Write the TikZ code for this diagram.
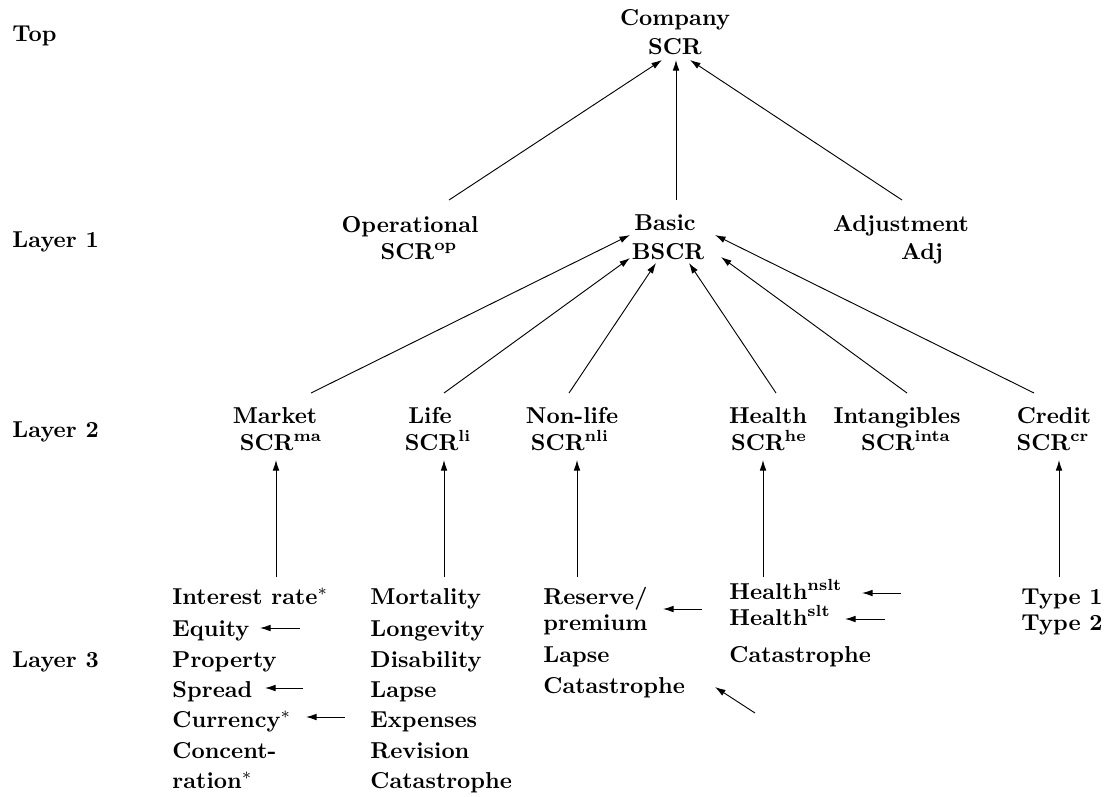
\documentclass[tikz,border=0pt]{standalone}
\usetikzlibrary{arrows.meta}
\begin{document}
\begin{tikzpicture}[x=0.4348pt,y=-0.4348pt,
  lbl/.style={inner sep=0pt, font=\bfseries, anchor=base},
  lft/.style={inner sep=0pt, font=\bfseries, anchor=base west},
  arr/.style={-{Latex[length=4.6pt,width=2.9pt]}, line width=0.4pt}]
\useasboundingbox (0,0) rectangle (1104,796);

% level labels
\node[lft] (ltop) at (12,41) {Top};
\node[lft] (lone) at (12,247) {Layer 1};
\node[lft] (ltwo) at (12,437) {Layer 2};
\node[lft] (lthree) at (12,667) {Layer 3};

% top
\node[lbl] (comp) at (675,25) {Company};
\node[lbl] (scr) at (675,54) {SCR};

% layer 1
\node[lbl] (op) at (410,232) {Operational};
\node[lbl] (opscr) at (419,259) {SCR\textsuperscript{op}};
\node[lbl] (basic) at (665,230) {Basic};
\node[lbl] (bscr) at (668,259) {BSCR};
\node[lbl] (adj) at (901,231) {Adjustment};
\node[lbl] (adjv) at (922,259) {Adj};

% layer 2
\node[lbl] (mkt) at (275,423) {Market};
\node[lbl] (mktscr) at (281,450) {SCR\textsuperscript{ma}};
\node[lbl] (life) at (430,423) {Life};
\node[lbl] (lifescr) at (438,450) {SCR\textsuperscript{li}};
\node[lbl] (nl) at (572,423) {Non-life};
\node[lbl] (nlscr) at (570,450) {SCR\textsuperscript{nli}};
\node[lbl] (hl) at (768,423) {Health};
\node[lbl] (hlscr) at (769,450) {SCR\textsuperscript{he}};
\node[lbl] (inta) at (897,423) {Intangibles};
\node[lbl] (intascr) at (906,450) {SCR\textsuperscript{inta}};
\node[lbl] (cred) at (1054,423) {Credit};
\node[lbl] (credscr) at (1053,450) {SCR\textsuperscript{cr}};

% layer 3: market column
\node[lft] (ma1) at (172,604) {Interest rate$^*$};
\node[lft] (ma2) at (172,636) {Equity};
\node[lft] (ma3) at (172,667) {Property};
\node[lft] (ma4) at (172,697) {Spread};
\node[lft] (ma5) at (172,727) {Currency$^*$};
\node[lft] (ma6) at (172,758) {Concent-};
\node[lft] (ma7) at (172,788) {ration$^*$};
% life column
\node[lft] (li1) at (370,604) {Mortality};
\node[lft] (li2) at (370,636) {Longevity};
\node[lft] (li3) at (370,667) {Disability};
\node[lft] (li4) at (370,697) {Lapse};
\node[lft] (li5) at (370,727) {Expenses};
\node[lft] (li6) at (370,758) {Revision};
\node[lft] (li7) at (370,788) {Catastrophe};
% non-life column
\node[lft] (nl1) at (543,604) {Reserve/};
\node[lft] (nl2) at (543,630) {premium};
\node[lft] (nl3) at (543,662) {Lapse};
\node[lft] (nl4) at (543,693) {Catastrophe};
% health column
\node[lft] (he1) at (729,599) {Health\textsuperscript{nslt}};
\node[lft] (he2) at (729,625) {Health\textsuperscript{slt}};
\node[lft] (he3) at (729,662) {Catastrophe};
% credit column
\node[lft] (cr1) at (1021,604) {Type 1};
\node[lft] (cr2) at (1021,630) {Type 2};

% connector end points
\coordinate (opOut) at (449,200);
\coordinate (scrInL) at (662,60);
\coordinate (basicOut) at (676,200);
\coordinate (scrInM) at (676,60);
\coordinate (adjOut) at (902,200);
\coordinate (scrInR) at (690,60);

\coordinate (mktOut) at (311,393);
\coordinate (bIn1) at (630,235);
\coordinate (lifeOut) at (444,393);
\coordinate (bIn2) at (630,258);
\coordinate (nlOut) at (569,393);
\coordinate (bIn3) at (656,263);
\coordinate (hlOut) at (776,393);
\coordinate (bIn4) at (689,263);
\coordinate (intaOut) at (907,393);
\coordinate (bIn5) at (721,257);
\coordinate (credOut) at (1034,393);
\coordinate (bIn6) at (715,235);

\coordinate (maOut) at (276,577);
\coordinate (maIn) at (276,460);
\coordinate (liOut) at (444,577);
\coordinate (liIn) at (444,460);
\coordinate (nliOut) at (577,577);
\coordinate (nliIn) at (577,460);
\coordinate (heOut) at (763,577);
\coordinate (heIn) at (763,460);
\coordinate (crOut) at (1059,577);
\coordinate (crIn) at (1059,460);

\coordinate (eqA) at (300,628);
\coordinate (eqB) at (260,628);
\coordinate (spA) at (303,688);
\coordinate (spB) at (265,688);
\coordinate (cuA) at (345,717);
\coordinate (cuB) at (306,717);
\coordinate (rpA) at (702,609);
\coordinate (rpB) at (663,609);
\coordinate (caA) at (755,713);
\coordinate (caB) at (715,687);
\coordinate (nsA) at (901,593);
\coordinate (nsB) at (862,593);
\coordinate (slA) at (885,619);
\coordinate (slB) at (845,619);

% connectors
\draw[arr] (opOut) -- (scrInL);
\draw[arr] (basicOut) -- (scrInM);
\draw[arr] (adjOut) -- (scrInR);

\draw[arr] (mktOut) -- (bIn1);
\draw[arr] (lifeOut) -- (bIn2);
\draw[arr] (nlOut) -- (bIn3);
\draw[arr] (hlOut) -- (bIn4);
\draw[arr] (intaOut) -- (bIn5);
\draw[arr] (credOut) -- (bIn6);

\draw[arr] (maOut) -- (maIn);
\draw[arr] (liOut) -- (liIn);
\draw[arr] (nliOut) -- (nliIn);
\draw[arr] (heOut) -- (heIn);
\draw[arr] (crOut) -- (crIn);

\draw[arr] (eqA) -- (eqB);
\draw[arr] (spA) -- (spB);
\draw[arr] (cuA) -- (cuB);
\draw[arr] (rpA) -- (rpB);
\draw[arr] (caA) -- (caB);
\draw[arr] (nsA) -- (nsB);
\draw[arr] (slA) -- (slB);
\end{tikzpicture}
\end{document}
